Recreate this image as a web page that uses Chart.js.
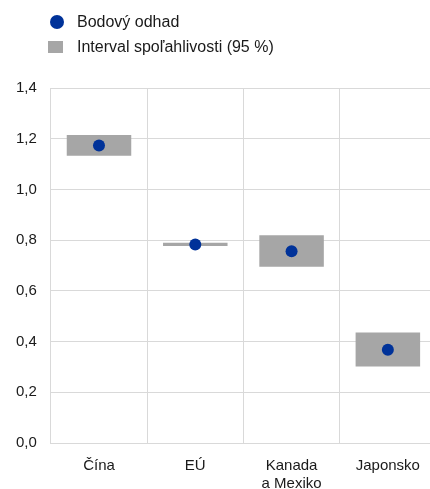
<!DOCTYPE html>
<html>
<head>
<meta charset="utf-8">
<script src="https://cdn.jsdelivr.net/npm/chart.js@4.4.1/dist/chart.umd.min.js"></script>
<style>
  html, body { margin: 0; padding: 0; background: #fff; overflow: hidden; }
  #wrap { position: relative; width: 430px; height: 489px; overflow: hidden; }
  #legend { position: absolute; left: 48px; top: 11px; font: 16px "Liberation Sans", Arial, sans-serif; color: #1a1a1a; }
  .item { position: relative; height: 25px; line-height: 22px; padding-left: 29px; }
  .mark { position: absolute; }
</style>
</head>
<body>
<div id="wrap">
  <canvas id="c" width="442" height="507"></canvas>
  <div id="legend"></div>
</div>
<script>
var categories = ["Čína", "EÚ", ["Kanada", "a Mexiko"], "Japonsko"];
var intervalLow = [1.133, 0.777, 0.695, 0.302];
var intervalHigh = [1.215, 0.790, 0.819, 0.436];
var pointEstimate = [1.173, 0.783, 0.756, 0.368];
var yTicks = [0, 0.2, 0.4, 0.6, 0.8, 1.0, 1.2, 1.4];

var blue = "#003299";
var grey = "#a6a6a6";
var gridColor = "#d9d9d9";
var axisFont = { family: "'Liberation Sans', Arial, sans-serif", size: 15 };

var intervals = intervalLow.map(function(lo, i) { return [lo, intervalHigh[i]]; });

var chart = new Chart(document.getElementById("c"), {
    data: {
        labels: categories,
        datasets: [{
            type: "line",
            label: "Bodový odhad",
            data: pointEstimate,
            showLine: false,
            pointRadius: 6,
            pointHoverRadius: 6,
            pointBackgroundColor: blue,
            pointBorderWidth: 0,
            borderColor: blue,
            order: 0
        }, {
            type: "bar",
            label: "Interval spoľahlivosti (95 %)",
            data: intervals,
            backgroundColor: grey,
            borderWidth: 0,
            borderSkipped: false,
            categoryPercentage: 1,
            barPercentage: 0.67,
            order: 1
        }]
    },
    options: {
        responsive: false,
        animation: false,
        layout: { padding: { top: 88, left: 2, right: 0, bottom: 0 } },
        plugins: { legend: { display: false }, tooltip: { enabled: false } },
        scales: {
            x: {
                offset: true,
                grid: { color: gridColor, lineWidth: 1, offset: true, drawTicks: false },
                border: { color: gridColor },
                ticks: { padding: 14, color: "#1a1a1a", font: axisFont }
            },
            y: {
                min: 0,
                max: 1.4,
                afterBuildTicks: function(axis) {
                    axis.ticks = yTicks.map(function(v) { return { value: v }; });
                },
                grid: { color: gridColor, lineWidth: 1, drawTicks: false },
                border: { color: gridColor },
                ticks: {
                    padding: 14,
                    color: "#1a1a1a",
                    font: axisFont,
                    callback: function(v) { return v.toFixed(1).replace(".", ","); }
                }
            }
        }
    }
});

// legend built from the chart's datasets
var legend = document.getElementById("legend");
chart.data.datasets.forEach(function(ds) {
    var item = document.createElement("div");
    item.className = "item";
    var mark = document.createElement("span");
    mark.className = "mark";
    if (ds.type === "line") {
        mark.style.cssText = "left:2px;top:4px;width:14px;height:14px;border-radius:50%;background:" + blue;
    } else {
        mark.style.cssText = "left:0;top:5px;width:15px;height:12px;background:" + grey;
    }
    item.appendChild(mark);
    item.appendChild(document.createTextNode(ds.label));
    legend.appendChild(item);
});
</script>
</body>
</html>
